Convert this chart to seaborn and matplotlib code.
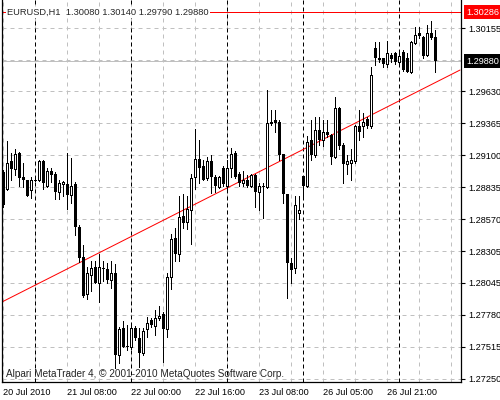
import seaborn as sns
import matplotlib.pyplot as plt
import matplotlib.transforms as mtransforms
import pandas as pd
import numpy as np

# EURUSD H1 candles, 20 Jul 16:00 .. 27 Jul 09:00
opens = [1.2896, 1.2882, 1.2905, 1.2899, 1.2912, 1.2892, 1.2890, 1.2881, 1.2890, 1.2890,
         1.2905, 1.2885, 1.2897, 1.2895, 1.2880, 1.2886, 1.2886, 1.2877, 1.2886, 1.2851,
         1.2826, 1.2795, 1.2811, 1.2818, 1.2804, 1.2817, 1.2816, 1.2807, 1.2813, 1.2745,
         1.2767, 1.2752, 1.2751, 1.2767, 1.2759, 1.2746, 1.2766, 1.2774, 1.2769, 1.2775,
         1.2779, 1.2766, 1.2809, 1.2842, 1.2828, 1.2860, 1.2855, 1.2865, 1.2892, 1.2907,
         1.2901, 1.2891, 1.2905, 1.2892, 1.2884, 1.2900, 1.2885, 1.2900, 1.2912, 1.2895,
         1.2887, 1.2890, 1.2885, 1.2894, 1.2880, 1.2885, 1.2884, 1.2937, 1.2939, 1.2938,
         1.2911, 1.2878, 1.2821, 1.2817, 1.2862, 1.2893, 1.2885, 1.2923, 1.2910, 1.2931,
         1.2923, 1.2929, 1.2927, 1.2909, 1.2949, 1.2919, 1.2903, 1.2904, 1.2905, 1.2934,
         1.2934, 1.2940, 1.2934, 1.2999, 1.2991, 1.2991, 1.2986, 1.2993, 1.2995, 1.2987,
         1.2996, 1.2991, 1.2979, 1.3003, 1.3011, 1.3008, 1.2993, 1.3011, 1.3008]
highs = [1.2898, 1.2922, 1.2912, 1.2915, 1.2913, 1.2904, 1.2890, 1.2892, 1.2892, 1.2906,
         1.2906, 1.2900, 1.2900, 1.2896, 1.2890, 1.2889, 1.2912, 1.2908, 1.2888, 1.2852,
         1.2836, 1.2818, 1.2823, 1.2823, 1.2828, 1.2823, 1.2821, 1.2823, 1.2820, 1.2768,
         1.2773, 1.2770, 1.2770, 1.2769, 1.2767, 1.2767, 1.2776, 1.2775, 1.2782, 1.2785,
         1.2780, 1.2813, 1.2845, 1.2850, 1.2876, 1.2878, 1.2876, 1.2895, 1.2932, 1.2923,
         1.2906, 1.2909, 1.2910, 1.2894, 1.2893, 1.2901, 1.2906, 1.2916, 1.2914, 1.2896,
         1.2897, 1.2894, 1.2895, 1.2895, 1.2887, 1.2887, 1.2964, 1.2948, 1.2948, 1.2939,
         1.2911, 1.2878, 1.2825, 1.2876, 1.2876, 1.2893, 1.2926, 1.2939, 1.2942, 1.2942,
         1.2939, 1.2939, 1.2928, 1.2958, 1.2950, 1.2920, 1.2910, 1.2915, 1.2935, 1.2948,
         1.2945, 1.2942, 1.2983, 1.3004, 1.3004, 1.2991, 1.3005, 1.2995, 1.2996, 1.2996,
         1.2997, 1.2995, 1.3005, 1.3016, 1.3016, 1.3009, 1.3018, 1.3021, 1.3014]
lows = [1.2867, 1.2881, 1.2890, 1.2894, 1.2885, 1.2884, 1.2876, 1.2875, 1.2889, 1.2889,
        1.2882, 1.2884, 1.2888, 1.2874, 1.2874, 1.2876, 1.2866, 1.2871, 1.2844, 1.2822,
        1.2793, 1.2791, 1.2798, 1.2804, 1.2789, 1.2806, 1.2804, 1.2800, 1.2734, 1.2738,
        1.2751, 1.2749, 1.2750, 1.2757, 1.2735, 1.2745, 1.2760, 1.2768, 1.2761, 1.2774,
        1.2739, 1.2760, 1.2799, 1.2823, 1.2823, 1.2850, 1.2849, 1.2837, 1.2882, 1.2887,
        1.2890, 1.2890, 1.2879, 1.2880, 1.2883, 1.2885, 1.2882, 1.2892, 1.2891, 1.2885,
        1.2885, 1.2884, 1.2884, 1.2867, 1.2865, 1.2858, 1.2883, 1.2935, 1.2929, 1.2906,
        1.2871, 1.2792, 1.2804, 1.2813, 1.2857, 1.2875, 1.2884, 1.2906, 1.2909, 1.2919,
        1.2918, 1.2925, 1.2903, 1.2908, 1.2915, 1.2887, 1.2895, 1.2890, 1.2904, 1.2923,
        1.2925, 1.2933, 1.2933, 1.2985, 1.2987, 1.2983, 1.2983, 1.2987, 1.2986, 1.2986,
        1.2980, 1.2979, 1.2978, 1.3002, 1.3007, 1.2991, 1.2992, 1.3006, 1.2979]
closes = [1.2869, 1.2904, 1.2899, 1.2911, 1.2891, 1.2890, 1.2876, 1.2890, 1.2890, 1.2905,
          1.2887, 1.2897, 1.2894, 1.2880, 1.2887, 1.2888, 1.2877, 1.2885, 1.2851, 1.2825,
          1.2794, 1.2813, 1.2817, 1.2804, 1.2818, 1.2816, 1.2807, 1.2813, 1.2745, 1.2766,
          1.2751, 1.2751, 1.2767, 1.2759, 1.2746, 1.2765, 1.2771, 1.2770, 1.2775, 1.2777,
          1.2766, 1.2809, 1.2841, 1.2828, 1.2859, 1.2854, 1.2866, 1.2891, 1.2907, 1.2900,
          1.2890, 1.2905, 1.2892, 1.2885, 1.2892, 1.2886, 1.2900, 1.2911, 1.2892, 1.2887,
          1.2890, 1.2885, 1.2894, 1.2880, 1.2885, 1.2884, 1.2937, 1.2938, 1.2937, 1.2910,
          1.2878, 1.2821, 1.2815, 1.2869, 1.2865, 1.2885, 1.2921, 1.2910, 1.2931, 1.2923,
          1.2929, 1.2927, 1.2909, 1.2949, 1.2918, 1.2903, 1.2905, 1.2906, 1.2934, 1.2929,
          1.2938, 1.2934, 1.2977, 1.2991, 1.2989, 1.2986, 1.2995, 1.2990, 1.2987, 1.2992,
          1.2981, 1.2979, 1.3004, 1.3010, 1.3009, 1.2992, 1.3011, 1.3007, 1.2988]

x_tick_bars = [0, 16, 32, 48, 64, 80, 96]
x_tick_labels = ["20 Jul 2010", "21 Jul 08:00", "22 Jul 00:00", "22 Jul 16:00",
                 "23 Jul 08:00", "26 Jul 05:00", "26 Jul 21:00"]
day_start_bars = [8, 32, 56, 75, 99]
y_tick_values = [1.30155, 1.29630, 1.29365, 1.29100, 1.28835, 1.28570,
                 1.28305, 1.28045, 1.27780, 1.27515, 1.27250]
y_grid_values = y_tick_values + [1.29892]

title = "EURUSD,H1  1.30080 1.30140 1.29790 1.29880"
footer = "Alpari MetaTrader 4, \u00a9 2001-2010 MetaQuotes Software Corp."
hline_price = 1.30286
bid_price = 1.29880
trend_x = [0, 114.25]
trend_y = [1.27891, 1.29807]

df = pd.DataFrame({"open": opens, "high": highs, "low": lows, "close": closes})
df["bar"] = np.arange(len(df))
bull = df[df.close >= df.open]
bear = df[df.close < df.open]

sns.set_style("white")
plt.rcParams["font.family"] = ["Liberation Sans", "DejaVu Sans"]
fs = 6.6

fig = plt.figure(figsize=(5, 4), dpi=100)
ax = fig.add_axes([2 / 500, 18 / 400, 459 / 500, 382 / 400])
ax.set_xlim(-0.25, 114.5)
ax.set_ylim(1.27224, 1.30387)

# grid
for b in range(0, 115, 8):
    ax.axvline(b, color="#c0c0c0", lw=0.72, ls=(0, (4, 4)), zorder=0)
for p in y_grid_values:
    ax.axhline(p, color="#c0c0c0", lw=0.72, ls=(0, (4, 4)), zorder=0)
for b in day_start_bars:
    ax.axvline(b, color="black", lw=0.72, ls=(0, (4, 3)), zorder=0.5)

# bid line and horizontal level
ax.axhline(bid_price, color="#c0c0c0", lw=0.72, zorder=0.6)
ax.axhline(hline_price, color="red", lw=0.72, zorder=0.7)
sns.lineplot(x=trend_x, y=trend_y, color="red", lw=0.72, ax=ax, zorder=0.8)

# candles
ax.vlines(df.bar, df.low, df.high, color="black", lw=0.72, zorder=2, antialiased=False)
ax.bar(bear.bar, bear.open - bear.close, bottom=bear.close, width=0.75,
       color="black", linewidth=0, zorder=3, antialiased=False)
ax.bar(bull.bar, bull.close - bull.open, bottom=bull.open, width=0.5,
       facecolor="white", edgecolor="black", linewidth=0.72, zorder=3, antialiased=False)

# axes
for side in ["left", "bottom", "right"]:
    ax.spines[side].set_visible(True)
    ax.spines[side].set_color("black")
    ax.spines[side].set_linewidth(0.9)
ax.spines["top"].set_visible(False)

ax.yaxis.tick_right()
ax.set_yticks(y_tick_values)
ax.set_yticklabels([f"{v:.5f}" for v in y_tick_values])
ax.set_xticks(x_tick_bars)
ax.set_xticklabels(x_tick_labels, ha="left")
ax.tick_params(axis="both", direction="out", length=3, width=0.8, labelsize=fs,
               colors="black", pad=2)
ax.tick_params(axis="x", pad=1)
ax.set_xlabel("")
ax.set_ylabel("")

blend = mtransforms.blended_transform_factory(ax.transAxes, ax.transData)
ax.text(1.012, hline_price, "1.30286", transform=blend, color="white", fontsize=fs,
        va="center", ha="left", clip_on=False,
        bbox=dict(boxstyle="square,pad=0.25", fc="red", ec="none"))
ax.text(1.012, bid_price, "1.29880", transform=blend, color="white", fontsize=fs,
        va="center", ha="left", clip_on=False,
        bbox=dict(boxstyle="square,pad=0.25", fc="black", ec="none"))

ax.text(0.011, hline_price, title, transform=blend, fontsize=6.7, va="center", ha="left",
        zorder=5, bbox=dict(boxstyle="square,pad=0.1", fc="white", ec="none"))
ax.text(0.009, 0.021, footer, transform=ax.transAxes, fontsize=7.2, va="center",
        ha="left", zorder=5)

fig.savefig("out.png", dpi=100, facecolor="white")
